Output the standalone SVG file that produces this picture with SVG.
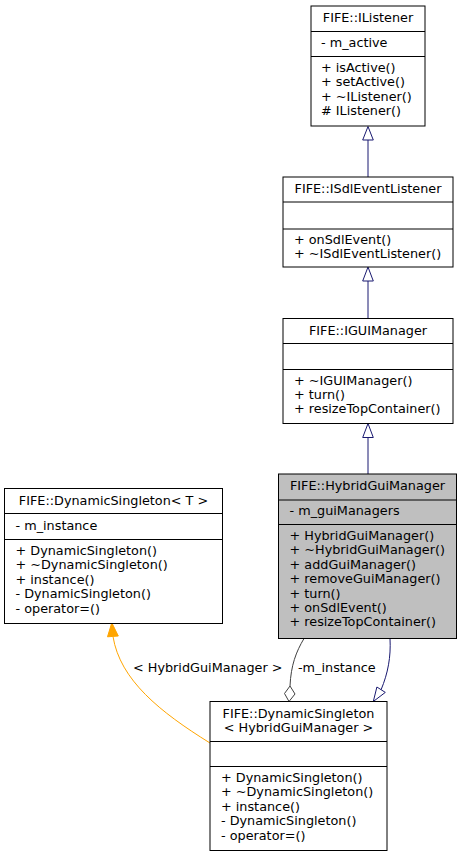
<svg xmlns="http://www.w3.org/2000/svg" width="463" height="857" viewBox="0 0 463 857">
<style>
  text { font-family: "DejaVu Sans", sans-serif; font-size: 12.8px; fill: #000; }
  .c { text-anchor: middle; }
  .box { fill: #fff; stroke: #000; stroke-width: 1; }
  .hl { fill: #bfbfbf; stroke: #000; stroke-width: 1; }
  .sep { stroke: #000; stroke-width: 1; }
  .inh { fill: none; stroke: #191970; stroke-width: 1; }
  .inhHead { fill: #fff; stroke: #191970; stroke-width: 1; }
  .agg { fill: none; stroke: #404040; stroke-width: 1; }
  .aggHead { fill: #fff; stroke: #404040; stroke-width: 1; }
  .tpl { fill: none; stroke: #ffa500; stroke-width: 1; }
  .tplHead { fill: #ffa500; stroke: #ffa500; stroke-width: 1; }
</style>
<rect width="463" height="857" fill="#fff"/>
<g id="connectors">
  <line class="inh" x1="368" y1="140" x2="368" y2="177"/>
  <polygon class="inhHead" points="368,126.5 362.7,140 373.3,140"/>
  <line class="inh" x1="368" y1="281" x2="368" y2="318.5"/>
  <polygon class="inhHead" points="368,267 362.7,281 373.3,281"/>
  <line class="inh" x1="368" y1="437.5" x2="368" y2="474"/>
  <polygon class="inhHead" points="368,423.5 362.7,437.5 373.3,437.5"/>
  <path class="inh" d="M390,638.5 C391,657 388,673 381.1,689.7"/>
  <polygon class="inhHead" points="373.3,701.5 385.3,692.4 376.9,687"/>
  <path class="agg" d="M304,638.5 C296,652 291,665 290,686"/>
  <polygon class="aggHead" points="290,686 295,694 289,701.5 284.5,693.5"/>
  <text x="298" y="672">-m_instance</text>
  <path class="tpl" d="M210,743 C160,712 120,680 113,636.5"/>
  <polygon class="tplHead" points="111.8,622.8 107.5,636.8 118.3,636"/>
  <text x="133" y="672">&lt; HybridGuiManager &gt;</text>
</g>
<g id="IListener">
  <rect class="box" x="311" y="6" width="114" height="120"/>
  <line class="sep" x1="311" y1="31.5" x2="425" y2="31.5"/>
  <line class="sep" x1="311" y1="56.5" x2="425" y2="56.5"/>
  <text class="c" x="368" y="22">FIFE::IListener</text>
  <text x="321" y="47">- m_active</text>
  <text x="321" y="72">+ isActive()</text>
  <text x="321" y="86.4">+ setActive()</text>
  <text x="321" y="100.8">+ ~IListener()</text>
  <text x="321" y="115.2"># IListener()</text>
</g>
<g id="ISdlEventListener">
  <rect class="box" x="283" y="177" width="170" height="90"/>
  <line class="sep" x1="283" y1="202" x2="453" y2="202"/>
  <line class="sep" x1="283" y1="229" x2="453" y2="229"/>
  <text class="c" x="368" y="193">FIFE::ISdlEventListener</text>
  <text x="294" y="243.5">+ onSdlEvent()</text>
  <text x="294" y="257.9">+ ~ISdlEventListener()</text>
</g>
<g id="IGUIManager">
  <rect class="box" x="283" y="318.5" width="170" height="105"/>
  <line class="sep" x1="283" y1="343.5" x2="453" y2="343.5"/>
  <line class="sep" x1="283" y1="369.5" x2="453" y2="369.5"/>
  <text class="c" x="368" y="334.5">FIFE::IGUIManager</text>
  <text x="294" y="384.5">+ ~IGUIManager()</text>
  <text x="294" y="398.9">+ turn()</text>
  <text x="294" y="413.3">+ resizeTopContainer()</text>
</g>
<g id="HybridGuiManager">
  <rect class="hl" x="278.5" y="474" width="178" height="164.5"/>
  <line class="sep" x1="278.5" y1="500" x2="456.5" y2="500"/>
  <line class="sep" x1="278.5" y1="524.5" x2="456.5" y2="524.5"/>
  <text class="c" x="367.5" y="490">FIFE::HybridGuiManager</text>
  <text x="289.5" y="515">- m_guiManagers</text>
  <text x="289.5" y="540">+ HybridGuiManager()</text>
  <text x="289.5" y="554.4">+ ~HybridGuiManager()</text>
  <text x="289.5" y="568.8">+ addGuiManager()</text>
  <text x="289.5" y="583.2">+ removeGuiManager()</text>
  <text x="289.5" y="597.6">+ turn()</text>
  <text x="289.5" y="612">+ onSdlEvent()</text>
  <text x="289.5" y="626.4">+ resizeTopContainer()</text>
</g>
<g id="DynamicSingletonT">
  <rect class="box" x="4.5" y="488.5" width="218" height="135"/>
  <line class="sep" x1="4.5" y1="513.5" x2="222.5" y2="513.5"/>
  <line class="sep" x1="4.5" y1="539.5" x2="222.5" y2="539.5"/>
  <text class="c" x="113.5" y="504.5">FIFE::DynamicSingleton&lt; T &gt;</text>
  <text x="15.5" y="529.5">- m_instance</text>
  <text x="15.5" y="555">+ DynamicSingleton()</text>
  <text x="15.5" y="569.4">+ ~DynamicSingleton()</text>
  <text x="15.5" y="583.8">+ instance()</text>
  <text x="15.5" y="598.2">- DynamicSingleton()</text>
  <text x="15.5" y="612.6">- operator=()</text>
</g>
<g id="DynamicSingletonHybrid">
  <rect class="box" x="210" y="701.5" width="177" height="149"/>
  <line class="sep" x1="210" y1="741.5" x2="387" y2="741.5"/>
  <line class="sep" x1="210" y1="766.5" x2="387" y2="766.5"/>
  <text class="c" x="298.5" y="717.5">FIFE::DynamicSingleton</text>
  <text class="c" x="298.5" y="732">&lt; HybridGuiManager &gt;</text>
  <text x="221" y="782">+ DynamicSingleton()</text>
  <text x="221" y="796.4">+ ~DynamicSingleton()</text>
  <text x="221" y="810.8">+ instance()</text>
  <text x="221" y="825.2">- DynamicSingleton()</text>
  <text x="221" y="839.6">- operator=()</text>
</g>
</svg>
